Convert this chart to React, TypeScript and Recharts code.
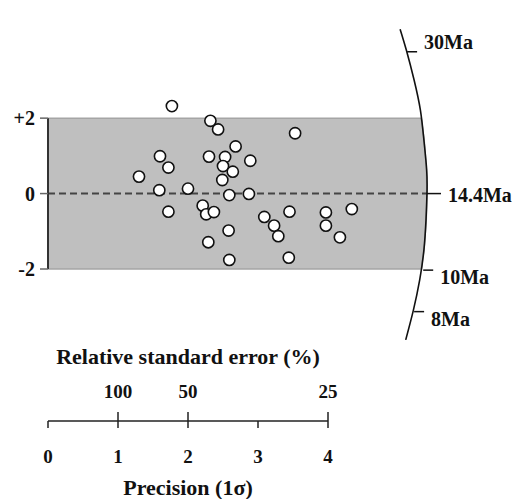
import React from "react";
import {
  Area,
  ComposedChart,
  Line,
  ReferenceLine,
  Scatter,
  XAxis,
  YAxis,
} from "recharts";

// precision (1/sigma) and standardised estimate of each grain
const precision = [
  1.77, 2.32, 2.43, 2.68, 1.6, 2.3, 2.53, 2.89, 1.72, 2.5, 2.64, 1.3, 2.49, 1.59,
  2.0, 2.59, 2.87, 2.21, 2.26, 2.37, 1.72, 2.58, 2.29, 2.59, 3.53, 3.09, 3.23,
  3.29, 3.45, 3.97, 3.97, 4.34, 4.17, 3.44,
];
const zScore = [
  2.32, 1.93, 1.7, 1.25, 0.99, 0.98, 0.97, 0.87, 0.69, 0.73, 0.58, 0.45, 0.36,
  0.09, 0.13, -0.04, -0.01, -0.32, -0.55, -0.49, -0.48, -0.98, -1.29, -1.76,
  1.6, -0.62, -0.85, -1.13, -0.48, -0.5, -0.85, -0.41, -1.16, -1.7,
];

const zTicks = [-2, 0, 2];
const precisionTicks = [0, 1, 2, 3, 4];
const rseTicks = [100, 50, 25];

// age scale arc
const arcX = [5.03, 5.12, 5.23, 5.32, 5.37, 5.41, 5.414, 5.4, 5.37, 5.31, 5.22, 5.11];
const arcZ = [4.36, 3.8, 3.01, 2.21, 1.42, 0.62, 0, -0.7, -1.5, -2.29, -3.09, -3.88];

const arcAges = ["30Ma", "14.4Ma", "10Ma", "8Ma"];
const arcAgeX = [5.13, 5.414, 5.36, 5.23];
const arcAgeZ = [3.76, 0, -2.03, -3.13];

// shaded +-2 band, closed off by the arc
const bandX = [0, 5.332, 5.374, 5.404, 5.414];
const bandLow = [-2, -2, -1.45, -0.7, 0];
const bandHigh = [2, 2, 1.42, 0.7, 0];

const Y_MIN = -6.03;
const Y_MAX = 5;

const points = precision.map((x, i) => ({ x, z: zScore[i] }));
const arc = arcX.map((x, i) => ({ x, z: arcZ[i] }));
const ages = arcAges.map((label, i) => ({ x: arcAgeX[i], z: arcAgeZ[i], label }));
const band = bandX.map((x, i) => ({ x, band: [bandLow[i], bandHigh[i]] }));

const FONT = "'Liberation Serif', 'Times New Roman', serif";

const Grain = (props: any) => (
  <circle cx={props.cx} cy={props.cy} r={5.6} fill="#fff" stroke="#111" strokeWidth={1.6} />
);

const AgeTick = (props: any) => {
  const { cx, cy, payload } = props;
  const len = payload.z === 0 ? 14 : 10;
  const dy = payload.z > 0 ? -10 : payload.z < 0 ? 7 : 1;
  return (
    <g>
      <line x1={cx} y1={cy} x2={cx + len} y2={cy} stroke="#111" strokeWidth={1.5} />
      <text
        x={cx + len + 7}
        y={cy + dy}
        dominantBaseline="central"
        fontSize={20}
        fontWeight="bold"
        fill="#111"
      >
        {payload.label}
      </text>
    </g>
  );
};

const PrecisionTick = (props: any) => {
  const { x, y, payload } = props;
  const v = payload.value;
  const rse = rseTicks.find((r) => 100 / r === v);
  return (
    <g>
      <line x1={x} y1={y} x2={x} y2={y + 7} stroke="#222" strokeWidth={1.5} />
      <text x={x} y={y + 35} textAnchor="middle" dominantBaseline="central" fontSize={19} fontWeight="bold" fill="#111">
        {v}
      </text>
      {rse !== undefined && (
        <>
          <line x1={x} y1={y - 9} x2={x} y2={y} stroke="#222" strokeWidth={1.5} />
          <text x={x} y={y - 30} textAnchor="middle" dominantBaseline="central" fontSize={19} fontWeight="bold" fill="#111">
            {rse}
          </text>
        </>
      )}
      {v === 2 && (
        <>
          <text x={x} y={y - 65} textAnchor="middle" dominantBaseline="central" fontSize={22} fontWeight="bold" fill="#111">
            Relative standard error (%)
          </text>
          <text x={x} y={y + 66} textAnchor="middle" dominantBaseline="central" fontSize={22} fontWeight="bold" fill="#111">
            Precision (1σ)
          </text>
        </>
      )}
    </g>
  );
};

export default function App() {
  return (
    <div style={{ position: "absolute", left: 0, top: 0, fontFamily: FONT, background: "#fff" }}>
      <ComposedChart width={512} height={499} margin={{ top: 5, right: 44, left: 0, bottom: 0 }}>
        <XAxis
          type="number"
          dataKey="x"
          domain={[0, 6]}
          ticks={precisionTicks}
          interval={0}
          axisLine={false}
          tickLine={false}
          tickSize={0}
          tickMargin={0}
          height={78}
          tick={<PrecisionTick />}
        />
        <YAxis
          type="number"
          dataKey="z"
          domain={[Y_MIN, Y_MAX]}
          ticks={zTicks}
          interval={0}
          width={48}
          axisLine={false}
          tickSize={8}
          tickMargin={5}
          tickLine={{ stroke: "#666", strokeWidth: 1.5 }}
          tickFormatter={(v) => (v > 0 ? `+${v}` : `${v}`)}
          tick={{ fill: "#111", fontSize: 20, fontWeight: "bold" }}
        />
        <Area
          data={band}
          dataKey="band"
          type="linear"
          fill="#bfbfbf"
          fillOpacity={1}
          stroke="#a5a5a5"
          strokeWidth={1.5}
          isAnimationActive={false}
        />
        <ReferenceLine
          segment={[{ x: 0, y: 0 }, { x: 5.414, y: 0 }]}
          stroke="#444"
          strokeWidth={2}
          strokeDasharray="7 4"
        />
        <ReferenceLine
          segment={[{ x: 0, y: -2 }, { x: 0, y: 2 }]}
          stroke="#333"
          strokeWidth={2}
          ifOverflow="visible"
        />
        <ReferenceLine
          segment={[{ x: 0, y: Y_MIN }, { x: 4, y: Y_MIN }]}
          stroke="#222"
          strokeWidth={1.5}
          ifOverflow="visible"
        />
        <Line
          data={arc}
          dataKey="z"
          type="natural"
          stroke="#111"
          strokeWidth={1.6}
          dot={false}
          isAnimationActive={false}
        />
        <Scatter data={ages} shape={<AgeTick />} isAnimationActive={false} />
        <Scatter data={points} shape={<Grain />} isAnimationActive={false} />
      </ComposedChart>
    </div>
  );
}
